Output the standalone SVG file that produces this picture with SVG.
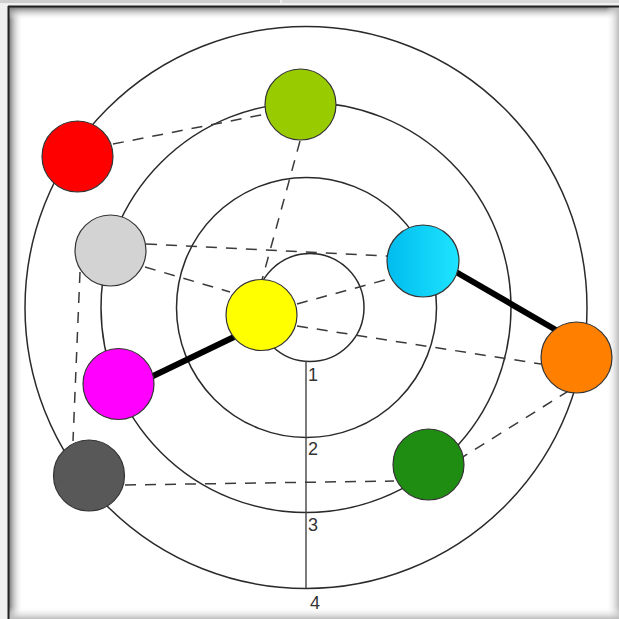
<svg xmlns="http://www.w3.org/2000/svg" width="619" height="619" viewBox="0 0 619 619">
<style>
.ring{fill:none;stroke:#2a2a2a;stroke-width:1.5}
.axis{stroke:#444;stroke-width:1.4}
.dash{fill:none;stroke:#3a3a3a;stroke-width:1.5;stroke-dasharray:11 9}
.thick{stroke:#000;stroke-width:6;stroke-linecap:butt}
.node{stroke:#333;stroke-width:1.2}
.lbl{font-family:"Liberation Sans",Arial,sans-serif;font-size:18px;fill:#333}
</style>
<defs>
<linearGradient id="cyanG" x1="0" y1="0" x2="1" y2="0">
<stop offset="0" stop-color="#00bcee"/>
<stop offset="1" stop-color="#1ee4ff"/>
</linearGradient>
<linearGradient id="shL" x1="0" y1="0" x2="1" y2="0">
<stop offset="0" stop-color="#777"/>
<stop offset="1" stop-color="#fff" stop-opacity="0"/>
</linearGradient>
<linearGradient id="shT" x1="0" y1="0" x2="0" y2="1">
<stop offset="0" stop-color="#777"/>
<stop offset="1" stop-color="#fff" stop-opacity="0"/>
</linearGradient>
<linearGradient id="shR" x1="0" y1="0" x2="1" y2="0">
<stop offset="0" stop-color="#fff" stop-opacity="0"/>
<stop offset="1" stop-color="#bbb"/>
</linearGradient>
<linearGradient id="shB" x1="0" y1="0" x2="0" y2="1">
<stop offset="0" stop-color="#fff" stop-opacity="0"/>
<stop offset="1" stop-color="#bbb"/>
</linearGradient>
</defs>
<g id="frame">
<rect x="0" y="0" width="619" height="619" fill="#f0f0f0"/>
<rect x="0" y="0" width="280" height="3" fill="#cfcfcf"/>
<rect x="282" y="0" width="337" height="3" fill="#dadada"/>
<rect x="8" y="6" width="611" height="613" fill="#fff"/>
<rect x="9" y="7" width="14" height="612" fill="url(#shL)"/>
<rect x="9" y="7" width="610" height="13" fill="url(#shT)"/>
<rect x="606" y="7" width="13" height="612" fill="url(#shR)"/>
<rect x="9" y="607" width="610" height="12" fill="url(#shB)"/>
<line x1="8.5" y1="6" x2="8.5" y2="619" stroke="#222" stroke-width="2"/>
<line x1="8" y1="6.5" x2="619" y2="6.5" stroke="#222" stroke-width="2"/>
</g>
<g id="rings">
<circle class="ring" cx="310" cy="307.5" r="54"/>
<circle class="ring" cx="306.5" cy="307.5" r="130"/>
<circle class="ring" cx="306" cy="307.5" r="205"/>
<circle class="ring" cx="306" cy="307.5" r="281"/>
<line class="axis" x1="306" y1="361" x2="306" y2="588"/>
<text class="lbl" x="308" y="381">1</text>
<text class="lbl" x="308" y="455">2</text>
<text class="lbl" x="308" y="531">3</text>
<text class="lbl" x="310" y="609">4</text>
</g>
<g id="connectors">
<line class="dash" x1="113" y1="144" x2="266" y2="114"/>
<line class="dash" x1="300" y1="141" x2="262" y2="280"/>
<line class="dash" x1="146" y1="244" x2="388" y2="256"/>
<line class="dash" x1="145" y1="267" x2="230" y2="292"/>
<line class="dash" x1="80" y1="272" x2="73" y2="441"/>
<line class="dash" x1="125" y1="485" x2="394" y2="481"/>
<line class="dash" x1="458" y1="460" x2="570" y2="390"/>
<line class="dash" x1="297" y1="326" x2="541" y2="364"/>
<line class="dash" x1="297" y1="304" x2="392" y2="278"/>
<line class="thick" x1="151" y1="377" x2="234" y2="337"/>
<line class="thick" x1="456" y1="272" x2="556" y2="330"/>
</g>
<g id="node-red"><circle class="node" cx="77.5" cy="156.5" r="35.5" fill="#ff0000"/></g>
<g id="node-lime"><circle class="node" cx="300.5" cy="104.5" r="35.5" fill="#99cc00"/></g>
<g id="node-lightgray"><circle class="node" cx="110.5" cy="250.5" r="35.5" fill="#d3d3d3"/></g>
<g id="node-cyan"><circle class="node" cx="423" cy="261" r="36" fill="url(#cyanG)"/></g>
<g id="node-yellow"><circle class="node" cx="261.5" cy="315" r="35.5" fill="#ffff00"/></g>
<g id="node-magenta"><circle class="node" cx="118.5" cy="384" r="35.5" fill="#ff00ff"/></g>
<g id="node-orange"><circle class="node" cx="576.5" cy="357.5" r="35.5" fill="#ff8000"/></g>
<g id="node-darkgray"><circle class="node" cx="89" cy="475.5" r="35.5" fill="#585858"/></g>
<g id="node-green"><circle class="node" cx="428.5" cy="464.5" r="35.5" fill="#1f8c12"/></g>
</svg>
